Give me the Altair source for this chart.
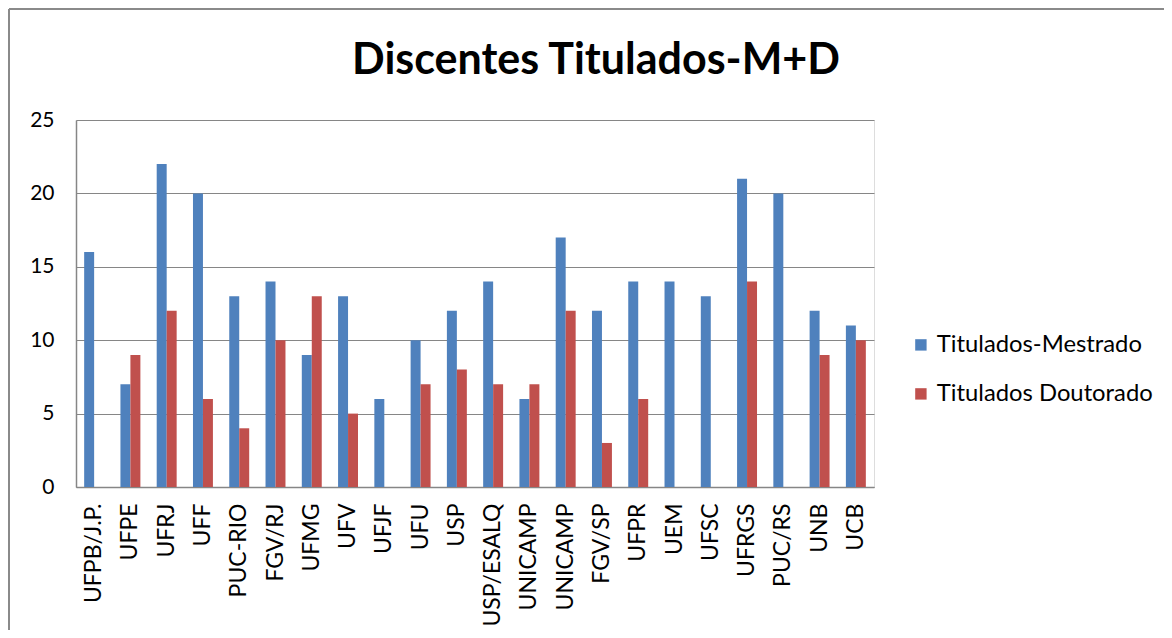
import altair as alt
import pandas as pd

categorias = ["UFPB/J.P.", "UFPE", "UFRJ", "UFF", "PUC-RIO", "FGV/RJ", "UFMG", "UFV", "UFJF",
              "UFU", "USP", "USP/ESALQ", "UNICAMP", "UNICAMP", "FGV/SP", "UFPR", "UEM", "UFSC",
              "UFRGS", "PUC/RS", "UNB", "UCB"]
mestrado = [16, 7, 22, 20, 13, 14, 9, 13, 6, 10, 12, 14, 6, 17, 12, 14, 14, 13, 21, 20, 12, 11]
doutorado = [0, 9, 12, 6, 4, 10, 13, 5, 0, 7, 8, 7, 7, 12, 3, 6, 0, 0, 14, 0, 9, 10]
series = ["Titulados-Mestrado", "Titulados Doutorado"]
cores = ["#4F81BD", "#C0504D"]
y_ticks = [0, 5, 10, 15, 20, 25]

rows = []
for i, c in enumerate(categorias):
    rows.append({"idx": i, "serie": series[0], "valor": mestrado[i]})
    rows.append({"idx": i, "serie": series[1], "valor": doutorado[i]})
df = pd.DataFrame(rows)

label_expr = "[" + ",".join("'" + c + "'" for c in categorias) + "][datum.value]"

FONT = "Lato"
GRID = "#868686"

bars = alt.Chart(df).mark_bar().encode(
    x=alt.X("idx:O", title=None,
            scale=alt.Scale(paddingInner=0.45, paddingOuter=0.225),
            axis=alt.Axis(labelExpr=label_expr, labelAngle=270, labelAlign="right",
                          labelBaseline="middle", labelFontSize=23, labelFont=FONT,
                          labelColor="#000000", labelPadding=16, ticks=False,
                          domainColor=GRID, domainWidth=1.5, grid=False, labelLimit=300)),
    xOffset=alt.XOffset("serie:N", sort=series, scale=alt.Scale(paddingInner=0, paddingOuter=0)),
    y=alt.Y("valor:Q", title=None,
            scale=alt.Scale(domain=[0, 25], nice=False),
            axis=alt.Axis(values=y_ticks, labelFontSize=21, labelFont=FONT, labelColor="#000000",
                          labelPadding=22, ticks=False, domainColor=GRID, domainWidth=1.5,
                          gridColor=GRID, gridWidth=1.2)),
    color=alt.Color("serie:N", sort=series,
                    scale=alt.Scale(domain=series, range=cores),
                    legend=alt.Legend(title=None, orient="none", legendX=833, legendY=213,
                                      symbolType="square", symbolSize=130, symbolStrokeWidth=0,
                                      labelFontSize=23.8, labelFont=FONT, labelColor="#000000",
                                      rowPadding=24, labelOffset=4, labelLimit=400)),
)

frame = pd.DataFrame({"k": [0]})
left_border = alt.Chart(frame).mark_rule(color="#8a8a8a", strokeWidth=2).encode(
    x=alt.value(-67), y=alt.value(-111), y2=alt.value(520))
top_border = alt.Chart(frame).mark_rule(color="#8a8a8a", strokeWidth=2).encode(
    x=alt.value(-67), x2=alt.value(1100), y=alt.value(-111))

chart = alt.layer(bars, left_border, top_border).properties(
    width=798, height=367,
    title=alt.TitleParams("Discentes Titulados-M+D", font=FONT, fontSize=43, fontWeight="bold",
                          color="#000000", anchor="middle", dx=121, dy=109, baseline="alphabetic",
                          offset=0, frame="group"),
    autosize=alt.AutoSizeParams(type="none"),
    padding={"left": 68, "top": 112, "right": 290, "bottom": 143},
).configure_view(stroke=None).configure(background="white")

chart.save("out.html", embed_options={"renderer": "svg", "actions": False})
